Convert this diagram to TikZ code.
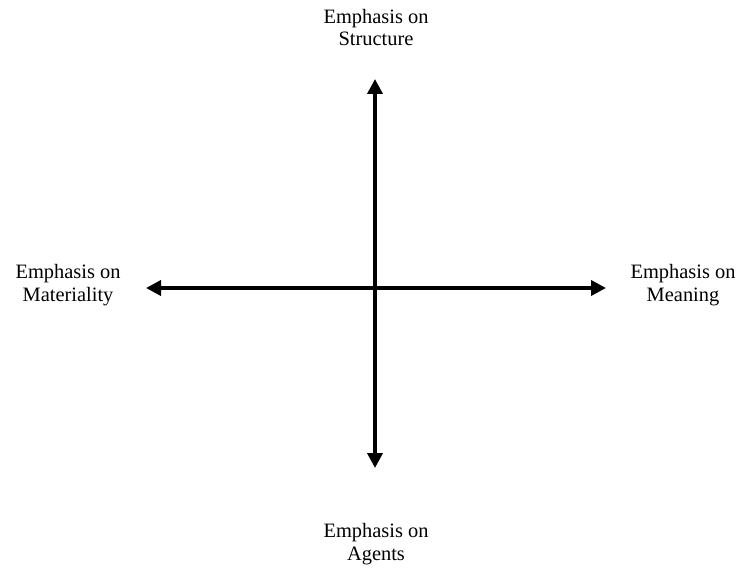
\documentclass[tikz,border=0pt]{standalone}
\usepackage{fontspec}
\setmainfont{Liberation Serif}
\usepackage{tikz}
\usetikzlibrary{arrows.meta}

\begin{document}
\begin{tikzpicture}[x=1bp, y=-1bp, >={Triangle[length=15bp,width=15bp]}, line width=3.6bp]
  \tikzstyle{axislabel} = [align=center, font=\fontsize{20.5}{22.5}\selectfont, inner sep=0pt]
  \useasboundingbox (0,0) rectangle (743,568);

  \coordinate (centre) at (375,288);
  \coordinate (top) at (375,79);
  \coordinate (bottom) at (375,468);
  \coordinate (left) at (146,288);
  \coordinate (right) at (606,288);

  \node[axislabel] (structure) at (376,27.5) {Emphasis on\\Structure};
  \node[axislabel] (agents) at (376,544) {Emphasis on\\Agents};
  \node[axislabel] (materiality) at (68,285) {Emphasis on\\Materiality};
  \node[axislabel] (meaning) at (683,285) {Emphasis on\\Meaning};

  \draw[<->] (left) -- (right);
  \draw[<->] (bottom) -- (top);
\end{tikzpicture}
\end{document}
